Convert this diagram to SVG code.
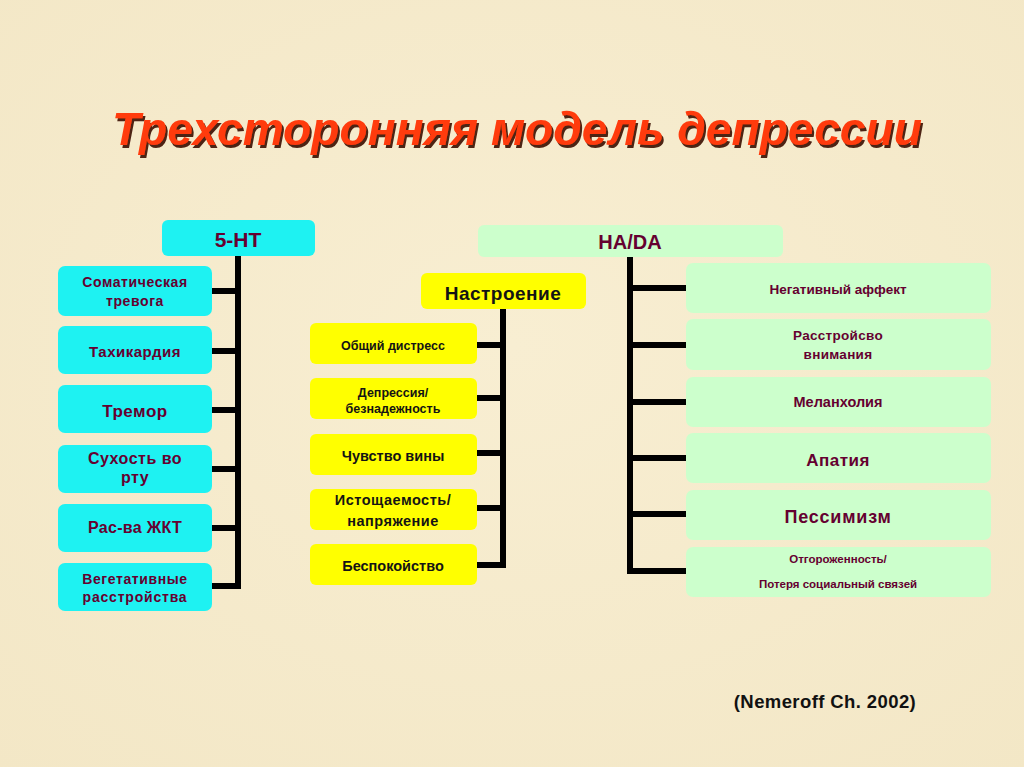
<svg xmlns="http://www.w3.org/2000/svg" width="1024" height="767" viewBox="0 0 1024 767">
<defs>
<style>
.t{font-family:"Liberation Sans",Arial,sans-serif;font-weight:bold;text-anchor:middle}
.m{fill:#650030}
.k{fill:#141414}
.cy{fill:#1EF2F2}
.ye{fill:#FFFF00}
.gr{fill:#CCFFCC}
.ln{stroke:#000;stroke-width:6;fill:none}
</style>
<radialGradient id="bg" cx="50%" cy="45%" r="75%">
<stop offset="0" stop-color="#F8EED2"/>
<stop offset="1" stop-color="#F3E7C6"/>
</radialGradient>
<filter id="sh" x="-5%" y="-20%" width="110%" height="140%">
<feDropShadow dx="2" dy="3" stdDeviation="0.6" flood-color="#3A1000" flood-opacity="0.9"/>
</filter>
</defs>
<rect width="1024" height="767" fill="url(#bg)"/>
<g id="title">
<text x="517" y="145" class="t" font-size="46" font-style="italic" fill="#FF3A0A" filter="url(#sh)" textLength="810" lengthAdjust="spacingAndGlyphs">Трехсторонняя модель депрессии</text>
</g>
<g id="connectors">
<path class="ln" d="M238 256 V589 M212 291 H238 M212 351 H238 M212 410 H238 M212 469 H238 M212 528 H238 M212 586 H238"/>
<path class="ln" d="M503 309 V568 M477 345 H503 M477 398 H503 M477 453 H503 M477 508 H503 M477 565 H503"/>
<path class="ln" d="M630 257 V574 M630 288 H686 M630 345 H686 M630 402 H686 M630 458 H686 M630 514 H686 M630 571 H686"/>
</g>
<g id="n5ht"><rect x="162" y="220" width="153" height="36" rx="6" class="cy"/><text x="238" y="247" class="t m" font-size="21">5-HT</text></g>
<g id="c1"><rect x="58" y="266" width="154" height="50" rx="7" class="cy"/><text x="135" y="287" class="t m" font-size="14" letter-spacing="0.6">Соматическая</text><text x="135" y="306" class="t m" font-size="14" letter-spacing="0.6">тревога</text></g>
<g id="c2"><rect x="58" y="326" width="154" height="48" rx="7" class="cy"/><text x="135" y="357" class="t m" font-size="15" letter-spacing="0.5">Тахикардия</text></g>
<g id="c3"><rect x="58" y="385" width="154" height="48" rx="7" class="cy"/><text x="135" y="417" class="t m" font-size="17" letter-spacing="0.5">Тремор</text></g>
<g id="c4"><rect x="58" y="445" width="154" height="48" rx="7" class="cy"/><text x="135" y="464" class="t m" font-size="16" letter-spacing="0.5">Сухость во</text><text x="135" y="483" class="t m" font-size="16" letter-spacing="0.5">рту</text></g>
<g id="c5"><rect x="58" y="504" width="154" height="48" rx="7" class="cy"/><text x="135" y="533" class="t m" font-size="16" letter-spacing="0.3">Рас-ва ЖКТ</text></g>
<g id="c6"><rect x="58" y="563" width="154" height="48" rx="7" class="cy"/><text x="135" y="584" class="t m" font-size="14" letter-spacing="0.6">Вегетативные</text><text x="135" y="602" class="t m" font-size="14" letter-spacing="0.8">расстройства</text></g>
<g id="mood"><rect x="421" y="273" width="165" height="36" rx="6" class="ye"/><text x="503" y="300" class="t k" font-size="19" letter-spacing="0.5">Настроение</text></g>
<g id="y1"><rect x="310" y="323" width="167" height="41" rx="6" class="ye"/><text x="393" y="350" class="t k" font-size="12.5">Общий дистресс</text></g>
<g id="y2"><rect x="310" y="378" width="167" height="41" rx="6" class="ye"/><text x="393" y="397" class="t k" font-size="12.5">Депрессия/</text><text x="393" y="413" class="t k" font-size="12.5">безнадежность</text></g>
<g id="y3"><rect x="310" y="434" width="167" height="41" rx="6" class="ye"/><text x="393" y="461" class="t k" font-size="14.5">Чувство вины</text></g>
<g id="y4"><rect x="310" y="489" width="167" height="41" rx="6" class="ye"/><text x="393" y="505" class="t k" font-size="14.5" letter-spacing="0.5">Истощаемость/</text><text x="393" y="526" class="t k" font-size="14.5" letter-spacing="0.5">напряжение</text></g>
<g id="y5"><rect x="310" y="544" width="167" height="41" rx="6" class="ye"/><text x="393" y="571" class="t k" font-size="14.5">Беспокойство</text></g>
<g id="nada"><rect x="478" y="225" width="305" height="32" rx="6" class="gr"/><text x="630" y="249" class="t m" font-size="20">HA/DA</text></g>
<g id="g1"><rect x="686" y="263" width="305" height="50" rx="7" class="gr"/><text x="838" y="294" class="t m" font-size="13.5">Негативный аффект</text></g>
<g id="g2"><rect x="686" y="319" width="305" height="51" rx="7" class="gr"/><text x="838" y="340" class="t m" font-size="13.5" letter-spacing="0.3">Расстройсво</text><text x="838" y="359" class="t m" font-size="13.5" letter-spacing="0.3">внимания</text></g>
<g id="g3"><rect x="686" y="377" width="305" height="50" rx="7" class="gr"/><text x="838" y="407" class="t m" font-size="14.5">Меланхолия</text></g>
<g id="g4"><rect x="686" y="433" width="305" height="50" rx="7" class="gr"/><text x="838" y="466" class="t m" font-size="17" letter-spacing="0.5">Апатия</text></g>
<g id="g5"><rect x="686" y="490" width="305" height="50" rx="7" class="gr"/><text x="838" y="523" class="t m" font-size="18" letter-spacing="0.8">Пессимизм</text></g>
<g id="g6"><rect x="686" y="547" width="305" height="50" rx="7" class="gr"/><text x="838" y="563" class="t m" font-size="11.5">Отгороженность/</text><text x="838" y="588" class="t m" font-size="11.5">Потеря социальный связей</text></g>
<g id="cite"><text x="825" y="708" class="t" font-size="18.5" fill="#111" letter-spacing="0.4">(Nemeroff Ch. 2002)</text></g>
</svg>
